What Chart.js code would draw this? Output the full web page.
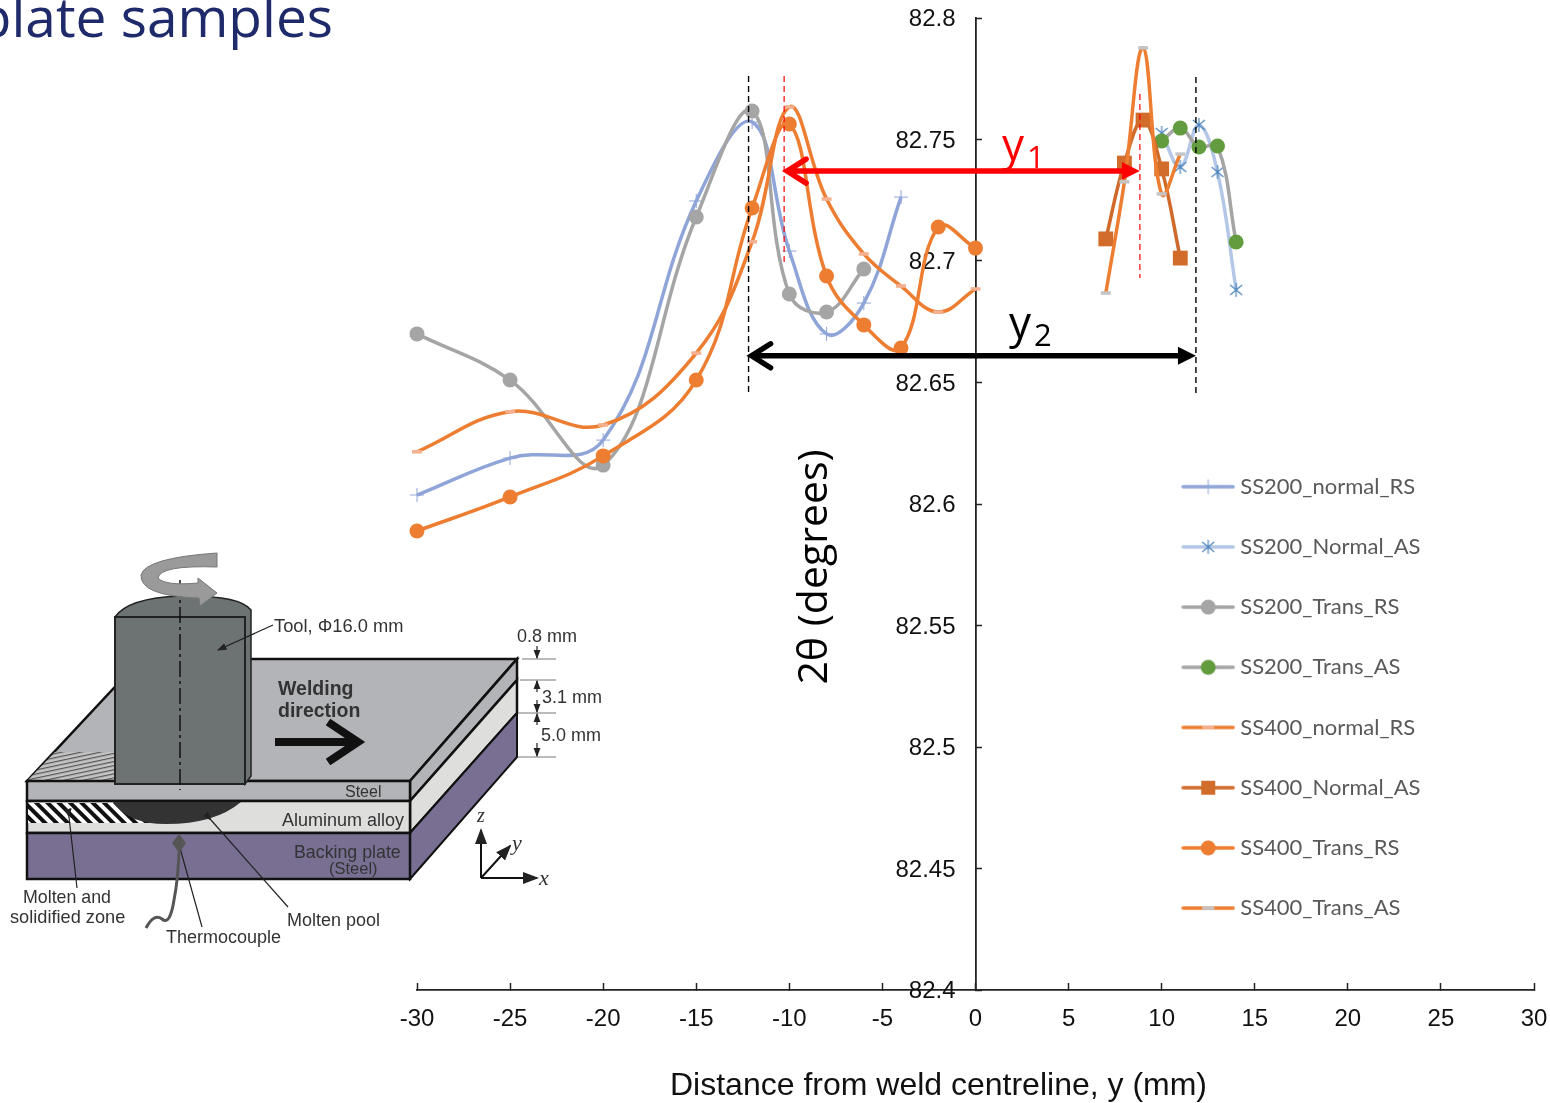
<!DOCTYPE html>
<html>
<head>
<meta charset="utf-8">
<title>XRD peak position across the weld</title>
<script src="https://cdn.jsdelivr.net/npm/chart.js@4"></script>
<style>
  html, body { margin: 0; padding: 0; background: #fff; overflow: hidden; width: 1550px; height: 1103px; }
  #chart { position: absolute; left: 0; top: 0; }
  #inset { position: absolute; left: 0; top: 0; pointer-events: none; }
  #heading { position: absolute; right: 1217px; top: -22px; white-space: nowrap; font: 55px "Open Sans", sans-serif; color: #1f2a6b; }
  #inset text { font-family: "Liberation Sans", sans-serif; fill: #333; }
</style>
</head>
<body>
<canvas id="chart" width="1550" height="1103"></canvas>
<div id="heading">plate samples</div>

<!-- friction stir welding sketch, not data -->
<svg id="inset" width="1550" height="1103">
  <defs>
    <pattern id="stripes" width="8" height="8" patternUnits="userSpaceOnUse" patternTransform="rotate(-45)">
      <rect width="8" height="8" fill="#fff"/><rect width="4" height="8" fill="#111"/>
    </pattern>
    <pattern id="ripples" width="7" height="4" patternUnits="userSpaceOnUse" patternTransform="rotate(-12)">
      <rect width="7" height="4" fill="#c4c4c4"/><rect width="7" height="1.2" fill="#555"/>
    </pattern>
    <marker id="tip" markerWidth="8" markerHeight="8" refX="7" refY="4" orient="auto">
      <path d="M0,1 L8,4 L0,7 Z" fill="#222"/>
    </marker>
  </defs>

  <polygon points="27,781 141,659 517,659 410,781" fill="#b2b4b7" stroke="#111" stroke-width="2.5"/>
  <polygon points="27,781 55,752 115,752 115,781" fill="url(#ripples)"/>
  <polygon points="410,781 517,659 517,680 410,801" fill="#b2b4b7" stroke="#111" stroke-width="2.5"/>
  <polygon points="410,801 517,680 517,713 410,833" fill="#dedfdd" stroke="#111" stroke-width="2.5"/>
  <polygon points="410,833 517,713 517,757 410,879" fill="#786f93" stroke="#111" stroke-width="2"/>
  <rect x="27" y="781" width="383" height="20" fill="#b2b4b7" stroke="#111" stroke-width="2.5"/>
  <rect x="27" y="801" width="383" height="32" fill="#dedfdd" stroke="#111" stroke-width="2.5"/>
  <rect x="27" y="833" width="383" height="46" fill="#786f93" stroke="#111" stroke-width="2.5"/>

  <polygon points="28,803 130,803 150,823 28,823" fill="url(#stripes)"/>
  <path d="M113,802 L241,802 Q215,824 166,824 Q128,824 113,802 Z" fill="#333"/>

  <path d="M115,617 Q128,598 180,596 Q240,595 251,610 L251,776 L245,784 L245,617 Z" fill="#6d7273" stroke="#222" stroke-width="1.5"/>
  <rect x="115" y="617" width="130" height="167" fill="#6d7273" stroke="#222" stroke-width="2"/>
  <line x1="180" y1="580" x2="180" y2="790" stroke="#111" stroke-width="1.5" stroke-dasharray="16 4 3 4"/>
  <path d="M217,553 L217,567 Q160,565 158,578 Q165,586 198,583 L198,578 L217,593 L200,606 L199,598 Q140,596 141,575 Q145,558 217,553 Z" fill="#9a9a9a" stroke="#777" stroke-width="1"/>

  <line x1="275" y1="742" x2="356" y2="742" stroke="#111" stroke-width="8"/>
  <polyline points="328,722 358,742 328,762" fill="none" stroke="#111" stroke-width="8"/>

  <line x1="273" y1="625" x2="218" y2="650" stroke="#222" stroke-width="1.2" marker-end="url(#tip)"/>
  <line x1="69" y1="817" x2="77" y2="888" stroke="#222" stroke-width="1.2" marker-start="url(#tip)"/>
  <line x1="180" y1="848" x2="202" y2="927" stroke="#222" stroke-width="1.2" marker-start="url(#tip)"/>
  <line x1="211" y1="820" x2="288" y2="907" stroke="#222" stroke-width="1.2" marker-start="url(#tip)"/>

  <path d="M179,834 L186,843 L179,853 L172,843 Z" fill="#555"/>
  <path d="M179,852 Q178,880 174,900 Q170,926 162,919 Q154,913 146,928" fill="none" stroke="#555" stroke-width="3"/>

  <g stroke="#777" stroke-width="1">
    <line x1="522" y1="659" x2="556" y2="659"/>
    <line x1="520" y1="680" x2="556" y2="680"/>
    <line x1="518" y1="713" x2="556" y2="713"/>
    <line x1="518" y1="757" x2="556" y2="757"/>
  </g>
  <g stroke="#222" stroke-width="1.2" marker-end="url(#tip)">
    <line x1="537" y1="646" x2="537" y2="658"/>
    <line x1="537" y1="692" x2="537" y2="681"/>
    <line x1="537" y1="700" x2="537" y2="712"/>
    <line x1="537" y1="725" x2="537" y2="714"/>
    <line x1="537" y1="743" x2="537" y2="756"/>
  </g>

  <line x1="481" y1="878" x2="481" y2="830" stroke="#111" stroke-width="2" marker-end="url(#tip)"/>
  <line x1="481" y1="878" x2="537" y2="878" stroke="#111" stroke-width="2" marker-end="url(#tip)"/>
  <line x1="481" y1="878" x2="510" y2="846" stroke="#111" stroke-width="2" marker-end="url(#tip)"/>
  <text x="477" y="822" style="font:italic 20px 'Liberation Serif'">z</text>
  <text x="512" y="850" style="font:italic 22px 'Liberation Serif'">y</text>
  <text x="539" y="885" style="font:italic 22px 'Liberation Serif'">x</text>

  <text x="278" y="695" font-size="19.5" font-weight="bold">Welding</text>
  <text x="278" y="717" font-size="19.5" font-weight="bold">direction</text>
  <text x="274" y="632" font-size="18.3">Tool, Φ16.0 mm</text>
  <text x="517" y="642" font-size="18">0.8 mm</text>
  <text x="542" y="703" font-size="18">3.1 mm</text>
  <text x="541" y="741" font-size="18">5.0 mm</text>
  <text x="345" y="797" font-size="16">Steel</text>
  <text x="282" y="826" font-size="18">Aluminum alloy</text>
  <text x="294" y="858" font-size="17.8">Backing plate</text>
  <text x="329" y="874" font-size="16.5">(Steel)</text>
  <text x="23" y="903" font-size="17.8">Molten and</text>
  <text x="10" y="923" font-size="18.2">solidified zone</text>
  <text x="166" y="943" font-size="18">Thermocouple</text>
  <text x="287" y="926" font-size="18">Molten pool</text>
</svg>

<script>
const xTicks = [-30, -25, -20, -15, -10, -5, 0, 5, 10, 15, 20, 25, 30];
const yTicks = [82.4, 82.45, 82.5, 82.55, 82.6, 82.65, 82.7, 82.75, 82.8];

// x positions measured along the weld
const xRetreating = [-30, -25, -20, -15, -12, -10, -8, -6, -4];
const xRetreatingLong = [-30, -25, -20, -15, -12, -10, -8, -6, -4, -2, 0];
const xTransRs = [-30, -25, -20, -15, -12, -10, -8, -6];
const xAdvancing200 = [10, 11, 12, 13, 14];
const xAdvancing400 = [7, 8, 9, 10, 11];

const ss200NormalRs = [82.6037, 82.6189, 82.6263, 82.7247, 82.7572, 82.7041, 82.67, 82.6827, 82.7263];
const ss200NormalAs = [82.7527, 82.7387, 82.756, 82.7366, 82.6881];
const ss200TransRs = [82.67, 82.651, 82.616, 82.7181, 82.7617, 82.6864, 82.679, 82.6967];
const ss200TransAs = [82.7494, 82.7547, 82.7469, 82.7473, 82.7078];
const ss400NormalRs = [82.6215, 82.638, 82.6325, 82.6621, 82.7079, 82.7634, 82.7255, 82.7029, 82.6897, 82.679, 82.6885];
const ss400NormalAs = [82.7091, 82.7403, 82.758, 82.7379, 82.7012];
const ss400TransRs = [82.5889, 82.6029, 82.6198, 82.651, 82.7218, 82.7564, 82.6938, 82.6737, 82.6642, 82.714, 82.7053];
const ss400TransAs = [82.6868, 82.7326, 82.7877, 82.7276, 82.744];

// hand drawn guides on the slide
const guideBlack = [-12.19, 11.84];
const guideRedLeft = -10.28;
const guideRedRight = 8.83;
const y1Level = 82.737;
const y2Level = 82.661;

const FONT = '"Liberation Sans", Arial, sans-serif';

// excel style asterisk, chart.js star has too many spokes
function asteriskImage(color) {
  const c = document.createElement('canvas');
  c.width = 16; c.height = 16;
  const g = c.getContext('2d');
  g.strokeStyle = color;
  g.lineWidth = 1.2;
  g.beginPath();
  g.moveTo(8, 1); g.lineTo(8, 15);
  g.moveTo(2, 3); g.lineTo(14, 13);
  g.moveTo(14, 3); g.lineTo(2, 13);
  g.stroke();
  g.fillStyle = color;
  g.fillRect(7, 7, 2, 2);
  return c;
}
const asterisk = asteriskImage('#4f87bd');

function series(label, xs, ys, line, marker) {
  return Object.assign({
    label,
    data: xs.map((x, i) => ({ x, y: ys[i] })),
    borderColor: line,
    backgroundColor: line,
    borderWidth: 3.5,
    tension: 0.4,
    clip: false,
    fill: false
  }, marker);
}

const dot = c => ({ pointStyle: 'circle', pointRadius: 7.5, pointBackgroundColor: c, pointBorderColor: c, pointBorderWidth: 0 });
const dash = c => ({ pointStyle: 'line', pointRadius: 5, pointBorderColor: c, pointBorderWidth: 3.5 });

const datasets = [
  series('SS200_normal_RS', xRetreating, ss200NormalRs, '#8fa5d8', { pointStyle: 'cross', pointRadius: 7, pointBorderColor: '#8fa5d8', pointBorderWidth: 1 }),
  series('SS200_Normal_AS', xAdvancing200, ss200NormalAs, '#b4c7e7', { pointStyle: asterisk, pointRadius: 8 }),
  series('SS200_Trans_RS', xTransRs, ss200TransRs, '#a5a5a5', dot('#a5a5a5')),
  series('SS200_Trans_AS', xAdvancing200, ss200TransAs, '#a5a5a5', dot('#639c3f')),
  series('SS400_normal_RS', xRetreatingLong, ss400NormalRs, '#ed7d31', dash('#f4b08f')),
  series('SS400_Normal_AS', xAdvancing400, ss400NormalAs, '#cf6a2a', { pointStyle: 'rect', pointRadius: 10.5, pointBackgroundColor: '#d26c2a', pointBorderWidth: 0 }),
  series('SS400_Trans_RS', xRetreatingLong, ss400TransRs, '#ed7d31', dot('#ed7d31')),
  series('SS400_Trans_AS', xAdvancing400, ss400TransAs, '#ed7d31', dash('#c4c4c4'))
];
// excel paints the first series at the bottom
datasets.forEach((d, i) => { d.order = datasets.length - i; });

// legend key: short line with the marker on it
function legendKey(d) {
  const c = document.createElement('canvas');
  c.width = 54; c.height = 24;
  const g = c.getContext('2d');
  g.strokeStyle = d.borderColor;
  g.lineWidth = 3.5;
  g.lineCap = 'round';
  g.beginPath(); g.moveTo(2, 12); g.lineTo(52, 12); g.stroke();
  const s = d.pointStyle;
  if (s === 'cross') {
    g.strokeStyle = d.pointBorderColor; g.lineWidth = 1;
    g.beginPath(); g.moveTo(27, 5); g.lineTo(27, 19); g.moveTo(20, 12); g.lineTo(34, 12); g.stroke();
  } else if (s === 'circle') {
    g.fillStyle = d.pointBackgroundColor;
    g.beginPath(); g.arc(27, 12, 7.5, 0, Math.PI * 2); g.fill();
  } else if (s === 'rect') {
    g.fillStyle = d.pointBackgroundColor;
    g.fillRect(20, 5, 14, 14);
  } else if (s === 'line') {
    g.strokeStyle = d.pointBorderColor; g.lineWidth = 3.5; g.lineCap = 'butt';
    g.beginPath(); g.moveTo(21, 12); g.lineTo(33, 12); g.stroke();
  } else {
    g.drawImage(s, 19, 4);
  }
  return c;
}

function arrow(ctx, x1, x2, y, color) {
  ctx.strokeStyle = color;
  ctx.fillStyle = color;
  ctx.lineWidth = 5.5;
  ctx.lineCap = 'round';
  ctx.setLineDash([]);
  ctx.beginPath();
  ctx.moveTo(x1 + 3, y); ctx.lineTo(x2 - 8, y);
  ctx.moveTo(x1 + 22, y - 12); ctx.lineTo(x1 + 3, y); ctx.lineTo(x1 + 22, y + 12);
  ctx.stroke();
  ctx.beginPath();
  ctx.moveTo(x2, y); ctx.lineTo(x2 - 18, y - 9); ctx.lineTo(x2 - 18, y + 9);
  ctx.closePath();
  ctx.fill();
}

function guide(ctx, xs, py1, py2, color, w) {
  ctx.strokeStyle = color;
  ctx.lineWidth = w;
  ctx.setLineDash([6, 4]);
  ctx.beginPath();
  ctx.moveTo(xs, py1); ctx.lineTo(xs, py2);
  ctx.stroke();
}

function subLabel(ctx, main, sub, x, y, color) {
  ctx.fillStyle = color;
  ctx.textAlign = 'left';
  ctx.textBaseline = 'alphabetic';
  ctx.font = '44px "Open Sans", sans-serif';
  ctx.fillText(main, x, y);
  ctx.font = '31px "Open Sans", sans-serif';
  ctx.fillText(sub, x + 25, y + 8);
}

// wrap one of the scale's draw steps so it lands off its default spot
function shiftDraw(scale, method, place) {
  const key = 'shifted_' + method;
  if (scale[key]) return;
  scale[key] = true;
  const orig = scale[method];
  scale[method] = function () {
    this.ctx.save();
    place(this.ctx);
    orig.call(this);
    this.ctx.restore();
  };
}

const annotations = {
  id: 'annotations',
  afterLayout(chart) {
    const { x, y } = chart.scales;
    // legend sits over the chart area, right of the y axis
    chart.legend.left = 1149;
    chart.legend.top = 437.5;
    // titles sit off centre on the slide
    shiftDraw(x, 'drawTitle', c => c.translate(-37, 2));
    shiftDraw(y, 'drawTitle', c => {
      // chart.js turns a title on a crossing axis the other way round
      c.translate(815, 567);
      c.rotate(Math.PI);
      c.translate(-892, -504);
    });
    // labels sit left of the crossing axis, clear of the inward ticks
    shiftDraw(y, 'drawLabels', c => c.translate(-20, 1.5));
  },
  afterDatasetsDraw(chart) {
    const { ctx, scales: { x, y } } = chart;
    ctx.save();
    guide(ctx, x.getPixelForValue(guideBlack[0]), 76, 395, '#000', 1.4);
    guide(ctx, x.getPixelForValue(guideBlack[1]), 77, 395, '#000', 1.4);
    guide(ctx, x.getPixelForValue(guideRedLeft), 76, 262, '#f00', 1.2);
    guide(ctx, x.getPixelForValue(guideRedRight), 94, 278, '#f00', 1.2);
    arrow(ctx, x.getPixelForValue(guideRedLeft), x.getPixelForValue(guideRedRight), y.getPixelForValue(y1Level), '#f00');
    arrow(ctx, x.getPixelForValue(guideBlack[0]), x.getPixelForValue(guideBlack[1]), y.getPixelForValue(y2Level), '#000');
    subLabel(ctx, 'y', '1', 1002, 160, '#f00');
    subLabel(ctx, 'y', '2', 1009, 338, '#000');
    ctx.restore();
  }
};

new Chart(document.getElementById('chart'), {
  type: 'line',
  data: { datasets },
  plugins: [annotations],
  options: {
    responsive: false,
    animation: false,
    layout: { padding: { left: 417, right: 16, top: 18, bottom: 0 } },
    plugins: {
      tooltip: { enabled: false },
      legend: {
        position: 'chartArea',
        align: 'start',
        labels: {
          font: { family: 'Lato, sans-serif', size: 22 },
          color: '#595959',
          usePointStyle: true,
          pointStyleWidth: 42,
          padding: 38.2,
          generateLabels: chart => chart.data.datasets.map((d, i) => ({
            text: d.label,
            datasetIndex: i,
            pointStyle: legendKey(d),
            fontColor: '#595959',
            lineWidth: 0
          }))
        }
      }
    },
    scales: {
      x: {
        type: 'linear',
        position: 'bottom',
        min: -30,
        max: 30,
        afterBuildTicks: s => { s.ticks = xTicks.map(value => ({ value })); },
        afterFit: s => { s.height = 113; s.paddingLeft = 0; s.paddingRight = 0; },
        grid: { drawOnChartArea: false, tickLength: -7, tickColor: '#222', tickWidth: 1.5 },
        border: { color: '#222', width: 1.8 },
        ticks: { color: '#111', font: { family: FONT, size: 24 }, padding: 22, maxRotation: 0, autoSkip: false },
        title: {
          display: true,
          text: 'Distance from weld centreline, y (mm)',
          color: '#111',
          font: { family: FONT, size: 32 },
          padding: 0
        }
      },
      y: {
        position: { x: 0 },
        min: 82.4,
        max: 82.8,
        afterBuildTicks: s => { s.ticks = yTicks.map(value => ({ value })); },
        grid: { drawOnChartArea: false, tickLength: -7, tickColor: '#222', tickWidth: 1.5 },
        border: { color: '#222', width: 1.8 },
        ticks: {
          color: '#111',
          font: { family: FONT, size: 24 },
          autoSkip: false,
          callback: v => String(Number(v.toFixed(2)))
        },
        title: {
          display: true,
          text: '2θ (degrees)',
          color: '#000',
          font: { family: '"Open Sans", sans-serif', size: 41 },
          padding: 0
        }
      }
    }
  }
});
</script>
</body>
</html>
